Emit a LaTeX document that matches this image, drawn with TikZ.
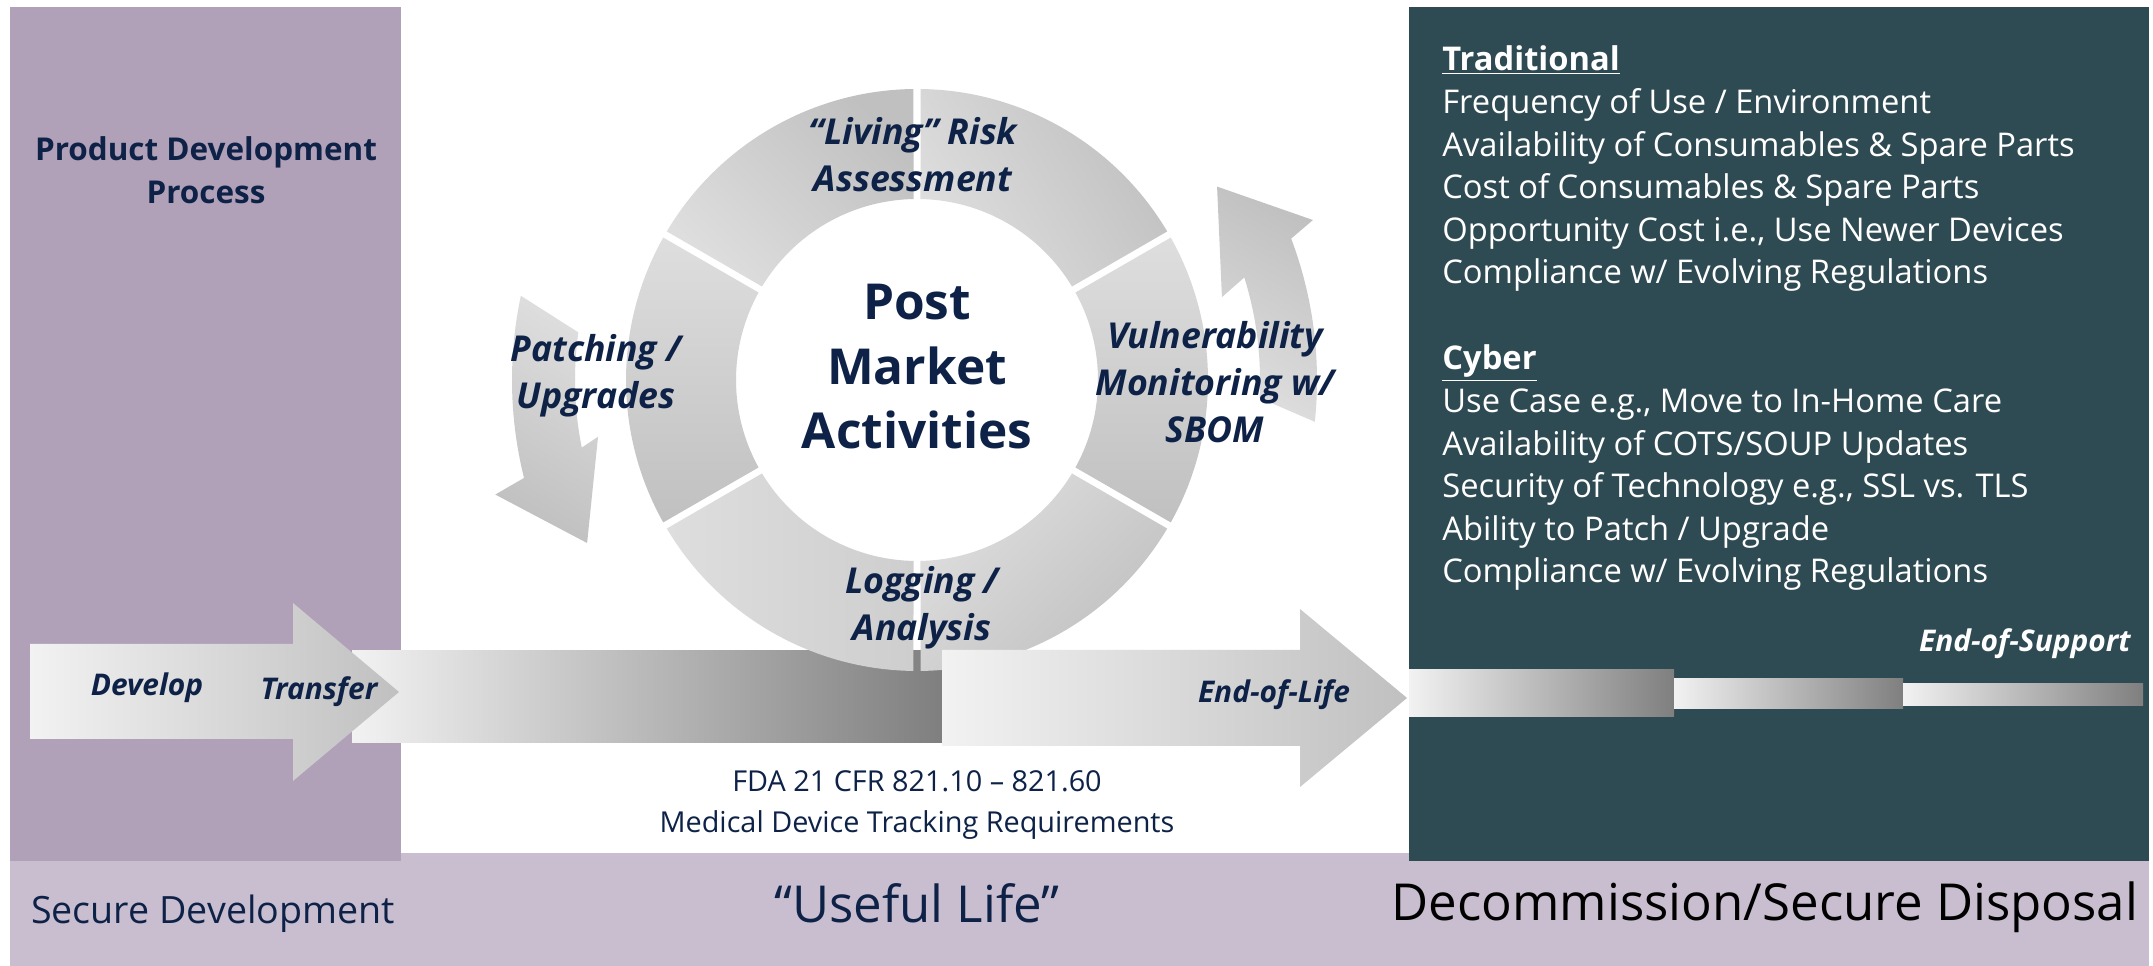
\documentclass[tikz,border=0pt]{standalone}
\usepackage{fontspec}
\setmainfont{Open Sans}
\usepackage{tikz}
\usepackage{xcolor}
\usetikzlibrary{calc,positioning}

\definecolor{navy}{RGB}{14,34,72}
\definecolor{lilac}{RGB}{176,160,184}
\definecolor{lilacpale}{RGB}{201,190,207}
\definecolor{slate}{RGB}{46,74,82}
\definecolor{ringdark}{RGB}{192,192,192}
\definecolor{ringmid}{RGB}{206,206,206}
\definecolor{ringlight}{RGB}{222,222,222}
\definecolor{barlight}{RGB}{242,242,242}
\definecolor{bardark}{RGB}{127,127,127}
\definecolor{arrowdark}{RGB}{192,192,192}

\begin{document}
\begin{tikzpicture}[x=0.2mm,y=0.2mm]
        \tikzset{
            ringlabel/.style={text=navy, align=center, inner sep=0pt, font=\fontsize{20.3}{26.7}\selectfont\bfseries\itshape},
            barlabel/.style={text=navy, inner sep=0pt, font=\fontsize{17}{20}\selectfont\bfseries\itshape},
            listtext/.style={text=white, anchor=base west, inner sep=0pt, font=\fontsize{18.6}{24.2}\selectfont},
            bandtext/.style={text=navy, inner sep=0pt, font=\fontsize{29}{34}\selectfont},
            graybar/.style={left color=barlight, right color=bardark},
            grayarrow/.style={left color=barlight, right color=arrowdark}
        }
        \useasboundingbox (0,0) rectangle (2153,966);
        \fill[white] (0,0) rectangle (2153,966);
        % panels
        \fill[lilacpale] (10,0) rectangle (2149,113);
        \fill[lilac] (10,105) rectangle (401,959);
        \fill[slate] (1409,105) rectangle (2149,959);
        \coordinate (ctr) at (917,586);
        % life line
        \shade[graybar] (352,223) rectangle (942,315);
        \shade[grayarrow] (30,227) -- (30,322) -- (293,322) -- (293,363) -- (399,274) -- (293,185) -- (293,227) -- cycle;
        % ring
        \foreach \a/\sh/\ca/\cb in {30/-60/ringdark/ringlight, 90/-45/ringdark/ringlight, 150/180/ringdark/ringlight,
                                   210/-90/ringmid/ringlight, 270/-135/ringdark/ringlight, 330/180/ringdark/ringlight}
            \shade[left color=\ca, right color=\cb, shading angle=\sh]
                ($(ctr)+({\a+0.7}:291)$) arc[start angle=\a+0.7, end angle=\a+59.3, radius=291]
                -- ($(ctr)+({\a+58.9}:181)$) arc[start angle=\a+58.9, end angle=\a+1.1, radius=181] -- cycle;
        \shade[grayarrow] (942,220) -- (942,316) -- (1300,316) -- (1300,357) -- (1407,268) -- (1300,179) -- (1300,220) -- cycle;
        % support bars
        \shade[graybar] (1409,249) rectangle (1674,296);
        \shade[graybar] (1674,257) rectangle (1903,287);
        \shade[graybar] (1903,260) rectangle (2143,282);
        % curved arrows
        \shade[left color=ringlight, right color=arrowdark, shading angle=-30]
            ($(ctr)+(172:342)$) -- ($(ctr)+(168:405)$) arc[start angle=168, end angle=194, radius=405]
            -- ($(ctr)+(195.2:437)$) -- ($(ctr)+(206.3:368)$) -- ($(ctr)+(190.1:324)$)
            -- ($(ctr)+(191.4:342)$) arc[start angle=191.4, end angle=172, radius=342] -- cycle;
        \shade[left color=arrowdark, right color=ringlight, shading angle=-30]
            ($(ctr)+(-3:343)$) -- ($(ctr)+(-6:400)$) arc[start angle=-6, end angle=20.7, radius=400]
            -- ($(ctr)+(22:427)$) -- ($(ctr)+(32.8:357)$) -- ($(ctr)+(15.2:316)$)
            -- ($(ctr)+(17.4:343)$) arc[start angle=17.4, end angle=-3, radius=343] -- cycle;
        % labels
        \node[text=navy, align=center, inner sep=0pt, font=\fontsize{17.9}{24.5}\selectfont\bfseries] (pdp) at (206,796) {Product Development\\Process};
        \node[text=navy, align=center, inner sep=0pt, font=\fontsize{28.2}{36.7}\selectfont\bfseries] (post) at (917,599) {Post\\Market\\Activities};
        \node[ringlabel] (risk) at (913,811) {“Living” Risk\\Assessment};
        \node[ringlabel] (patch) at (596,590) {Patching /\\Upgrades};
        \node[ringlabel] (vuln) at (1215,584) {Vulnerability\\Monitoring w/\\SBOM};
        \node[ringlabel] (logg) at (922,358) {Logging /\\Analysis};
        \node[barlabel] (dev) at (147,278) {Develop};
        \node[barlabel] (trans) at (319,274) {Transfer};
        \node[barlabel] (eol) at (1274,271) {End-of-Life};
        \node[barlabel, text=white, anchor=east] (eos) at (2131,322) {End-of-Support};
        \node[text=navy, inner sep=0pt, font=\fontsize{16.4}{20}\selectfont] (fda) at (917,185) {FDA 21 CFR 821.10 – 821.60};
        \node[text=navy, inner sep=0pt, font=\fontsize{16.4}{20}\selectfont, anchor=base] (mdtr) at ($(fda.base)+(0,-41)$) {Medical Device Tracking Requirements};
        \node[bandtext, font=\fontsize{21.4}{26}\selectfont] (secdev) at (213,52) {Secure Development};
        \node[bandtext] (useful) at (917,63) {“Useful Life”};
        \node[bandtext, text=black] (decom) at (1765,59) {Decommission/Secure Disposal};
        % end-of-life drivers
        \node[listtext, font=\fontsize{18.6}{24.2}\selectfont\bfseries] (trad) at (1442,895) {\underline{Traditional}};
        \foreach \txt [count=\i] in {Frequency of Use / Environment, Availability of Consumables \& Spare Parts,
                                    Cost of Consumables \& Spare Parts, {Opportunity Cost i.e., Use Newer Devices},
                                    Compliance w/ Evolving Regulations}
            \node[listtext] (trad\i) at ($(trad.base west)+(0,{-42.6*\i})$) {\txt};
        \node[listtext, font=\fontsize{18.6}{24.2}\selectfont\bfseries] (cyber) at ($(trad.base west)+(0,-299)$) {\underline{Cyber}};
        \foreach \txt [count=\i] in {{Use Case e.g., Move to In-Home Care}, Availability of COTS/SOUP Updates,
                                    {Security of Technology e.g., SSL vs. TLS}, Ability to Patch / Upgrade,
                                    Compliance w/ Evolving Regulations}
            \node[listtext] (cyber\i) at ($(cyber.base west)+(0,{-42.6*\i})$) {\txt};
    \end{tikzpicture}
\end{document}
